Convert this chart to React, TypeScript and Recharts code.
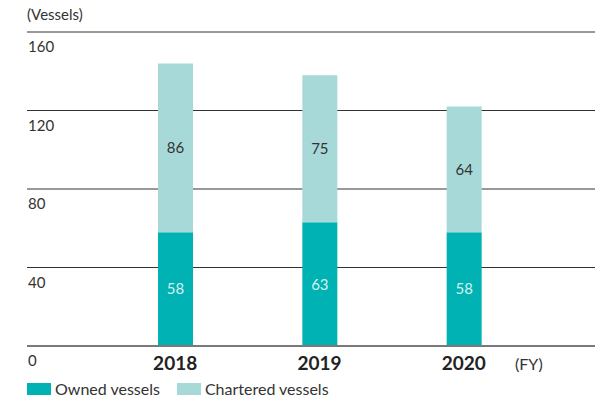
import React from 'react';
import { BarChart, Bar, XAxis, YAxis, CartesianGrid, LabelList } from 'recharts';

const years = ['2018', '2019', '2020'];
const owned = [58, 63, 58];
const chartered = [86, 75, 64];
const yTicks = [0, 40, 80, 120, 160];

const OWNED_COLOR = '#00b2b3';
const CHARTERED_COLOR = '#a8d9d9';
const FONT = 'Lato, "Open Sans", sans-serif';

const data = years.map((year, i) => ({ year, owned: owned[i], chartered: chartered[i] }));

const YTick = (props: any) => {
  const { y, payload } = props;
  return (
    <text x={28} y={y + 20} fontSize={15} fill="#333" fontFamily={FONT}>
      {payload.value}
    </text>
  );
};

const XTick = (props: any) => {
  const { x, y, payload } = props;
  return (
    <text x={x} y={y + 24} textAnchor="middle" fontSize={19} fontWeight={700} fill="#222" fontFamily={FONT}>
      {payload.value}
    </text>
  );
};

const App: React.FC = () => {
  return (
    <div style={{ position: 'absolute', left: 0, top: 0, width: 595, height: 401, fontFamily: FONT, background: '#fff' }}>
      {/* unit labels */}
      <div style={{ position: 'absolute', left: 27, top: 5, fontSize: 15, color: '#333' }}>(Vessels)</div>
      <div style={{ position: 'absolute', left: 515, top: 354, fontSize: 16, color: '#333' }}>(FY)</div>

      <BarChart width={595} height={401} data={data} margin={{ top: 32, right: 0, left: 26, bottom: 54 }}>
        <CartesianGrid vertical={false} stroke="#333" />
        <YAxis
          domain={[0, 160]}
          ticks={yTicks}
          width={1}
          axisLine={false}
          tickLine={false}
          tick={<YTick />}
        />
        <XAxis
          dataKey="year"
          height={1}
          tickSize={0}
          tickMargin={0}
          padding={{ left: 76, right: 59 }}
          axisLine={{ stroke: '#7a7a7a', strokeWidth: 2 }}
          tickLine={false}
          tick={<XTick />}
        />
        <Bar dataKey="owned" stackId="a" fill={OWNED_COLOR} barSize={35} isAnimationActive={false}>
          <LabelList dataKey="owned" position="center" fill="#d6f1f0" fontSize={15} fontFamily={FONT} />
        </Bar>
        <Bar dataKey="chartered" stackId="a" fill={CHARTERED_COLOR} barSize={35} isAnimationActive={false}>
          <LabelList dataKey="chartered" position="center" fill="#333" fontSize={15} fontFamily={FONT} />
        </Bar>
      </BarChart>

      {/* Legend */}
      <div style={{ position: 'absolute', left: 27, top: 379, display: 'flex', alignItems: 'center', fontSize: 16, color: '#333' }}>
        <span style={{ width: 24, height: 12, background: OWNED_COLOR, display: 'inline-block', marginRight: 4 }} />
        <span style={{ marginRight: 17 }}>Owned vessels</span>
        <span style={{ width: 24, height: 12, background: CHARTERED_COLOR, display: 'inline-block', marginRight: 4 }} />
        <span>Chartered vessels</span>
      </div>
    </div>
  );
};

export default App;
